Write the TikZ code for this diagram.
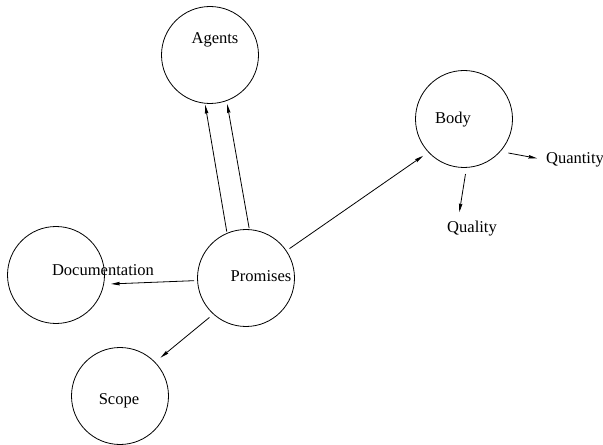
\documentclass[tikz,border=0pt]{standalone}
\usepackage{fontspec}
\setmainfont{Liberation Serif}
\usetikzlibrary{arrows.meta}

\begin{document}
\begin{tikzpicture}[x=0.75pt, y=-0.75pt,
    ring/.style={draw, circle, line width=0.6pt, minimum size=72.75pt, inner sep=0pt, outer sep=0pt},
    word/.style={inner sep=0pt, outer sep=0pt, font=\fontsize{12.4}{15}\selectfont},
    link/.style={line width=0.6pt, -{Stealth[length=6.5pt, width=2.6pt, inset=0.6pt]}}]
    \useasboundingbox (0,0) rectangle (603,445);

    % Circles
    \node[ring] (agents) at (210,55) {};
    \node[ring] (docs) at (56,275) {};
    \node[ring] (promises) at (246,278) {};
    \node[ring] (scope) at (120,396) {};
    \node[ring] (body) at (464,119) {};

    % Labels
    \node[word] (agentsl) at (215,40) {Agents};
    \node[word] (docsl) at (103,270) {Documentation};
    \node[word] (promisesl) at (261,276) {Promises};
    \node[word] (scopel) at (119,401) {Scope};
    \node[word] (bodyl) at (453,120) {Body};
    \node[word] (quantity) at (575,160) {Quantity};
    \node[word] (quality) at (472,229) {Quality};

    % Promises to Agents, twice
    \draw[link, shorten <=1.3pt, shorten >=1.3pt] (promises.113.5) -- (agents.264.3);
    \draw[link, shorten <=1.1pt, shorten >=2.8pt] (promises.86.6) -- (agents.290.2);

    % Promises to the others
    \draw[link, shorten <=2.6pt, shorten >=5.6pt] (promises.183.3) -- (docs.-11.3);
    \draw[link, shorten <=4pt, shorten >=5.5pt] (promises.228) -- (scope.44.3);
    \draw[link, shorten <=3pt, shorten >=4.9pt] (promises.34.9) -- (body.223.5);

    % Body to its parts
    \draw[link, shorten <=6.4pt, shorten >=6.8pt] (body.-42.9) -- (quantity.west);
    \draw[link, shorten <=5pt, shorten >=7pt] (body.-87) -- (quality.152);
\end{tikzpicture}
\end{document}
